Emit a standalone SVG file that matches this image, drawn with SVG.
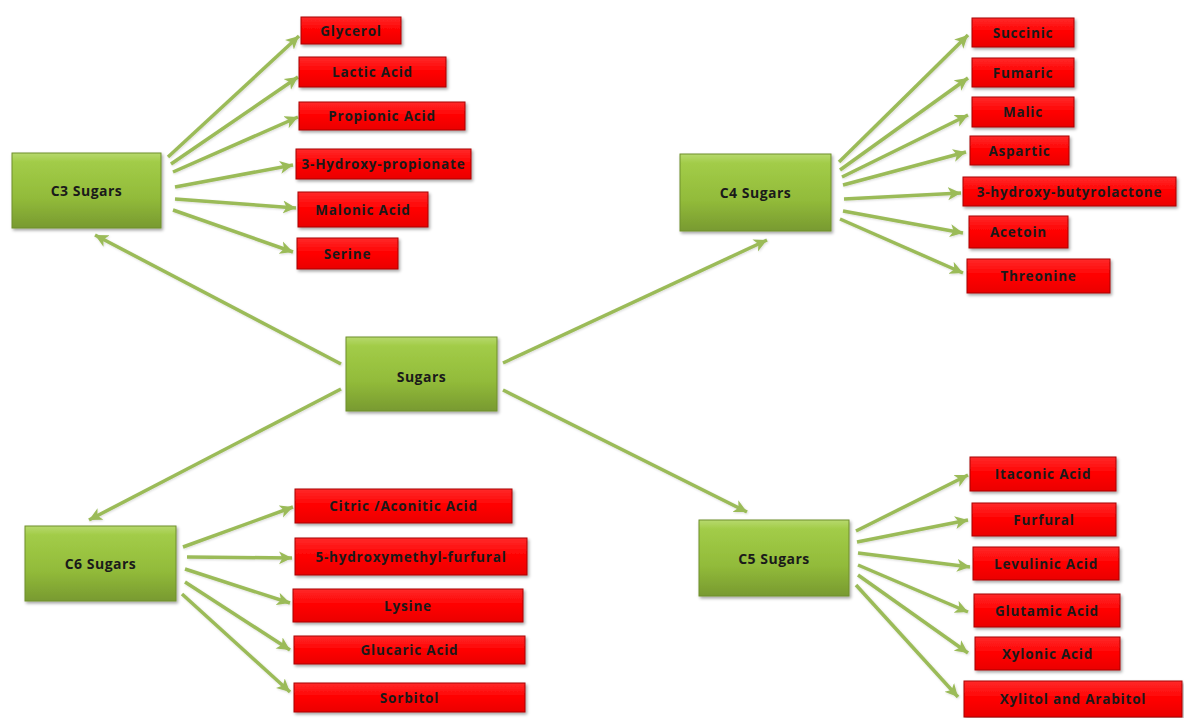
<svg xmlns="http://www.w3.org/2000/svg" width="1184" height="718" viewBox="0 0 1184 718">
  <style>
    .hub rect { fill: url(#greenFill); stroke: #6f8f2c; stroke-width: 1; filter: url(#shadow); }
    .leaf rect { fill: url(#redFill); stroke: #a80000; stroke-width: 1; filter: url(#shadow); }
    text { font-family: "Open Sans", "Liberation Sans", sans-serif; font-weight: bold; text-anchor: middle; dominant-baseline: central; fill: #1a1a1a; }
    .hub text { font-size: 14px; letter-spacing: 0.5px; }
    .leaf text { font-size: 13.5px; letter-spacing: 0.8px; }
    #connectors line { stroke: #9bbb59; stroke-width: 3.5; stroke-linecap: butt; marker-end: url(#head); }
    #connectors { filter: url(#lineShadow); }
  </style>
  <defs>
    <linearGradient id="greenFill" x1="0" y1="0" x2="0" y2="1">
      <stop offset="0" stop-color="#b7d96d"/>
      <stop offset="0.12" stop-color="#a2cc48"/>
      <stop offset="0.6" stop-color="#92bb3a"/>
      <stop offset="1" stop-color="#789a30"/>
    </linearGradient>
    <linearGradient id="redFill" x1="0" y1="0" x2="0" y2="1">
      <stop offset="0" stop-color="#ff2a2a"/>
      <stop offset="0.5" stop-color="#ff0000"/>
      <stop offset="1" stop-color="#ea0000"/>
    </linearGradient>
    <filter id="shadow" x="-10%" y="-20%" width="125%" height="150%">
      <feDropShadow dx="1.5" dy="2" stdDeviation="1.5" flood-color="#000" flood-opacity="0.35"/>
    </filter>
    <filter id="lineShadow" filterUnits="userSpaceOnUse" x="0" y="0" width="1184" height="718">
      <feDropShadow dx="0.8" dy="1" stdDeviation="0.8" flood-color="#000" flood-opacity="0.15"/>
    </filter>
    <marker id="head" markerUnits="userSpaceOnUse" markerWidth="14" markerHeight="14" viewBox="0 0 14 14" refX="13" refY="7" orient="auto">
      <path d="M0,0.5 L13,7 L0,13.5 L3.5,7 z" fill="#9bbb59"/>
    </marker>
  </defs>

  <rect width="1184" height="718" fill="#ffffff"/>

  <g id="connectors">
    <!-- hub to sugar classes -->
    <line x1="341" y1="364" x2="95" y2="235"/>
    <line x1="503" y1="363" x2="767" y2="240"/>
    <line x1="341" y1="389" x2="89" y2="520"/>
    <line x1="503" y1="390" x2="747" y2="512"/>
    <!-- C3 products -->
    <line x1="168" y1="157" x2="299" y2="36"/>
    <line x1="171" y1="164" x2="298" y2="77"/>
    <line x1="173" y1="172" x2="298" y2="117"/>
    <line x1="175" y1="187" x2="293" y2="165"/>
    <line x1="175" y1="199" x2="296" y2="208"/>
    <line x1="173" y1="210" x2="293" y2="252"/>
    <!-- C4 products -->
    <line x1="839" y1="162" x2="968" y2="35"/>
    <line x1="840" y1="170" x2="968" y2="78"/>
    <line x1="842" y1="177" x2="968" y2="115"/>
    <line x1="843" y1="185" x2="966" y2="152"/>
    <line x1="844" y1="199" x2="961" y2="193"/>
    <line x1="843" y1="211" x2="963" y2="233"/>
    <line x1="840" y1="219" x2="963" y2="273"/>
    <!-- C6 products -->
    <line x1="183" y1="547" x2="293" y2="507"/>
    <line x1="187" y1="557" x2="292" y2="558"/>
    <line x1="185" y1="569" x2="290" y2="603"/>
    <line x1="185" y1="582" x2="290" y2="650"/>
    <line x1="182" y1="594" x2="290" y2="692"/>
    <!-- C5 products -->
    <line x1="856" y1="531" x2="968" y2="475"/>
    <line x1="857" y1="542" x2="968" y2="520"/>
    <line x1="858" y1="553" x2="970" y2="567"/>
    <line x1="858" y1="565" x2="968" y2="612"/>
    <line x1="858" y1="575" x2="968" y2="653"/>
    <line x1="856" y1="585" x2="958" y2="697"/>
  </g>

  <!-- sugar classes -->
  <g id="sugars" class="hub"><rect x="346" y="337" width="151" height="74"/><text x="421.5" y="376">Sugars</text></g>
  <g id="c3-sugars" class="hub"><rect x="12" y="153" width="149" height="75"/><text x="86.5" y="190.5">C3 Sugars</text></g>
  <g id="c4-sugars" class="hub"><rect x="680" y="154" width="151" height="77"/><text x="755.5" y="192.5">C4 Sugars</text></g>
  <g id="c6-sugars" class="hub"><rect x="25" y="526" width="151" height="75"/><text x="100.5" y="563.5">C6 Sugars</text></g>
  <g id="c5-sugars" class="hub"><rect x="699" y="520" width="150" height="76"/><text x="774" y="558">C5 Sugars</text></g>

  <!-- C3 products -->
  <g id="glycerol" class="leaf"><rect x="301" y="17" width="100" height="27"/><text x="351" y="30.5">Glycerol</text></g>
  <g id="lactic-acid" class="leaf"><rect x="299" y="57" width="147" height="30"/><text x="372.5" y="72">Lactic Acid</text></g>
  <g id="propionic-acid" class="leaf"><rect x="299" y="102" width="166" height="28"/><text x="382" y="116">Propionic Acid</text></g>
  <g id="hydroxy-propionate" class="leaf"><rect x="296" y="149" width="175" height="30"/><text x="383.5" y="164">3-Hydroxy-propionate</text></g>
  <g id="malonic-acid" class="leaf"><rect x="298" y="192" width="130" height="35"/><text x="363" y="209.5">Malonic Acid</text></g>
  <g id="serine" class="leaf"><rect x="297" y="238" width="101" height="31"/><text x="347.5" y="253.5">Serine</text></g>

  <!-- C4 products -->
  <g id="succinic" class="leaf"><rect x="972" y="18" width="102" height="29"/><text x="1023" y="32.5">Succinic</text></g>
  <g id="fumaric" class="leaf"><rect x="972" y="58" width="102" height="29"/><text x="1023" y="72.5">Fumaric</text></g>
  <g id="malic" class="leaf"><rect x="972" y="97" width="102" height="30"/><text x="1023" y="112">Malic</text></g>
  <g id="aspartic" class="leaf"><rect x="970" y="136" width="99" height="29"/><text x="1019.5" y="150.5">Aspartic</text></g>
  <g id="hydroxy-butyrolactone" class="leaf"><rect x="963" y="177" width="213" height="29"/><text x="1069.5" y="191.5">3-hydroxy-butyrolactone</text></g>
  <g id="acetoin" class="leaf"><rect x="969" y="216" width="99" height="32"/><text x="1018.5" y="232">Acetoin</text></g>
  <g id="threonine" class="leaf"><rect x="967" y="259" width="143" height="34"/><text x="1038.5" y="276">Threonine</text></g>

  <!-- C6 products -->
  <g id="citric-aconitic-acid" class="leaf"><rect x="295" y="489" width="217" height="34"/><text x="403.5" y="506">Citric /Aconitic Acid</text></g>
  <g id="hydroxymethyl-furfural" class="leaf"><rect x="295" y="538" width="232" height="37"/><text x="411" y="556.5">5-hydroxymethyl-furfural</text></g>
  <g id="lysine" class="leaf"><rect x="293" y="589" width="230" height="33"/><text x="408" y="605.5">Lysine</text></g>
  <g id="glucaric-acid" class="leaf"><rect x="294" y="636" width="231" height="28"/><text x="409.5" y="650">Glucaric Acid</text></g>
  <g id="sorbitol" class="leaf"><rect x="294" y="683" width="231" height="29"/><text x="409.5" y="697.5">Sorbitol</text></g>

  <!-- C5 products -->
  <g id="itaconic-acid" class="leaf"><rect x="970" y="457" width="146" height="34"/><text x="1043" y="474">Itaconic Acid</text></g>
  <g id="furfural" class="leaf"><rect x="972" y="503" width="144" height="33"/><text x="1044" y="519.5">Furfural</text></g>
  <g id="levulinic-acid" class="leaf"><rect x="973" y="547" width="146" height="33"/><text x="1046" y="563.5">Levulinic Acid</text></g>
  <g id="glutamic-acid" class="leaf"><rect x="974" y="594" width="146" height="33"/><text x="1047" y="610.5">Glutamic Acid</text></g>
  <g id="xylonic-acid" class="leaf"><rect x="975" y="637" width="145" height="33"/><text x="1047.5" y="653.5">Xylonic Acid</text></g>
  <g id="xylitol-arabitol" class="leaf"><rect x="964" y="681" width="218" height="36"/><text x="1073" y="699">Xylitol and Arabitol</text></g>
</svg>
